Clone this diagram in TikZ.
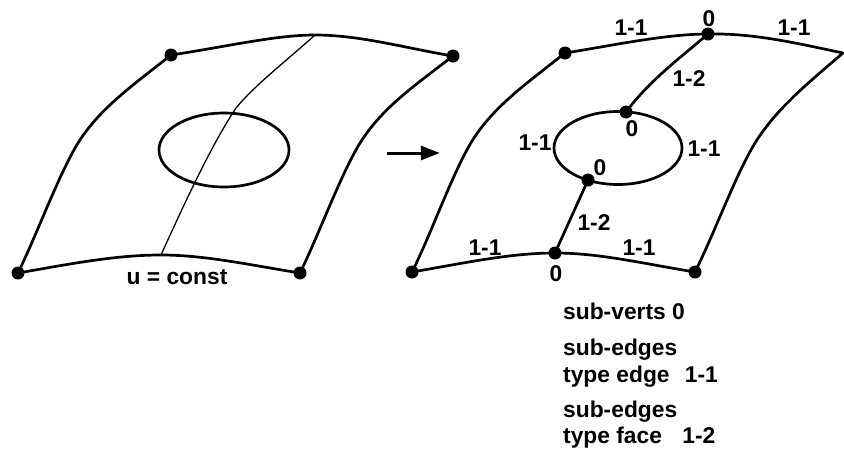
\documentclass[tikz,border=0pt]{standalone}
\usepackage{fontspec}
\usetikzlibrary{arrows.meta}
\setmainfont{Liberation Sans}
\tikzset{
  x=1pt,y=-1pt,
  vert/.style={circle,fill=black,inner sep=0pt,minimum size=13pt},
  hidden/.style={inner sep=0pt,minimum size=0pt},
  edgeline/.style={line width=2.7pt,line cap=round,line join=round},
  thinline/.style={line width=1.3pt},
  lab/.style={font=\bfseries\fontsize{22.8}{24}\selectfont,inner sep=0pt,text=black},
  note/.style={lab,anchor=base west}
}
\begin{document}
\begin{tikzpicture}
\useasboundingbox (0,0) rectangle (844,448);
% left patch
\node[vert] (la) at (171,55) {};
\node[vert] (lb) at (453,56) {};
\node[vert] (lc) at (18,273) {};
\node[vert] (ld) at (300,273) {};
\node[hidden] (lt) at (315,35) {};
\node[hidden] (lm) at (161,255) {};
\draw[edgeline] (la.center) .. controls (225,47) and (275,35) .. (lt.center) .. controls (360,35) and (405,48) .. (lb.center);
\draw[edgeline] (lc.center) .. controls (70,264) and (115,255) .. (lm.center) .. controls (205,255) and (250,265) .. (ld.center);
\draw[edgeline] (la.center) .. controls (132,86) and (100,108) .. (78,143) .. controls (58,176) and (38,232) .. (lc.center);
\draw[edgeline] (lb.center) .. controls (414,86) and (382,108) .. (360,143) .. controls (340,176) and (320,232) .. (ld.center);
\draw[edgeline] (224,150) ellipse [x radius=65,y radius=37];
\draw[thinline] (lt.center) .. controls (285,62) and (255,85) .. (236,108) .. controls (215,140) and (195,180) .. (lm.center);
\node[lab] (lu) at (177,277) {u = const};
% arrow
\node[hidden] (as) at (387,153) {};
\node[hidden] (ae) at (440,153) {};
\draw[line width=3pt,-{Triangle[length=19pt,width=14pt]}] (as) -- (ae);
% right patch
\node[vert] (ra) at (565,53) {};
\node[hidden] (rb) at (843,53) {};
\node[vert] (rc) at (412,272) {};
\node[vert] (rd) at (695,272) {};
\node[vert] (rt) at (708,34) {};
\node[vert] (rm) at (555,253) {};
\node[vert] (re) at (626,112) {};
\node[vert] (rf) at (588,180) {};
\draw[edgeline] (ra.center) .. controls (610,46) and (665,34) .. (rt.center) .. controls (755,33) and (800,44) .. (rb.center);
\draw[edgeline] (rc.center) .. controls (465,263) and (510,253) .. (rm.center) .. controls (600,253) and (645,264) .. (rd.center);
\draw[edgeline] (ra.center) .. controls (526,84) and (494,106) .. (472,141) .. controls (452,174) and (432,232) .. (rc.center);
\draw[edgeline] (rb.center) .. controls (807,84) and (777,108) .. (755,143) .. controls (735,176) and (715,232) .. (rd.center);
\draw[edgeline] (618,148) ellipse [x radius=64,y radius=36.5];
\draw[edgeline] (rt.center) .. controls (680,58) and (650,80) .. (re.center);
\draw[edgeline] (rf.center) -- (rm.center);
% labels
\node[lab] (t1) at (631,28) {1-1};
\node[lab] (t2) at (794,28) {1-1};
\node[lab] (t3) at (709,19) {0};
\node[lab] (t4) at (689,79) {1-2};
\node[lab] (t5) at (632,129) {0};
\node[lab] (t6) at (535,143) {1-1};
\node[lab] (t7) at (704,149) {1-1};
\node[lab] (t8) at (600,168) {0};
\node[lab] (t9) at (594,223) {1-2};
\node[lab] (t10) at (485,248) {1-1};
\node[lab] (t11) at (639,248) {1-1};
\node[lab] (t12) at (556,274) {0};
% notes
\node[note] (n1) at (563,319) {sub-verts 0};
\node[note] (n2) at (563,355) {sub-edges};
\node[note] (n3) at (563,382) {type edge\hspace{9pt} 1-1};
\node[note] (n4) at (563,417) {sub-edges};
\node[note] (n5) at (563,443) {type face\hspace{14pt} 1-2};
\end{tikzpicture}
\end{document}
